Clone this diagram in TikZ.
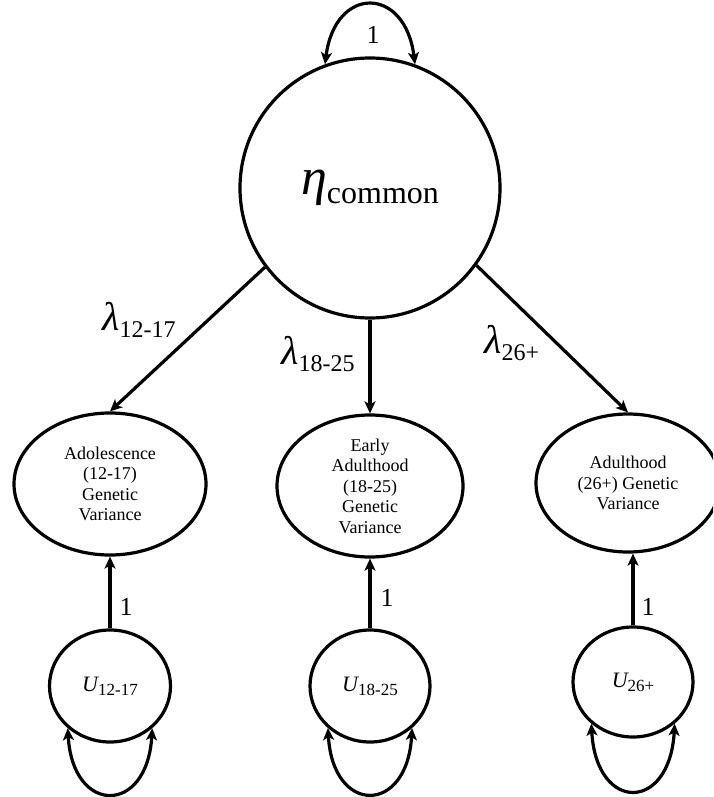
\documentclass[tikz,border=0pt]{standalone}
\usepackage{fontspec}
\setmainfont{Liberation Serif}
\usetikzlibrary{shapes.geometric,arrows.meta}

% loading symbol with an upright subscript
\newcommand\lamsub[1]{{\fontsize{40}{42}\selectfont\itshape λ}\raisebox{-7pt}{\fontsize{24}{26}\selectfont #1}}
\newcommand\usub[1]{{\fontsize{22}{24}\selectfont\itshape U}\raisebox{-4pt}{\fontsize{17}{18}\selectfont #1}}

\begin{document}
\begin{tikzpicture}[x=1pt,y=-1pt,
  latent/.style={draw, line width=3.2pt, ellipse, inner sep=0pt, align=center,
                 font=\fontsize{18}{20.5}\selectfont},
  conn/.style={line width=3.2pt, -{Stealth[length=12pt,width=11pt,inset=3pt]}},
  loopconn/.style={line width=3.2pt, {Stealth[length=12pt,width=11pt,inset=3pt]}-{Stealth[length=12pt,width=11pt,inset=3pt]}},
  coef/.style={inner sep=0pt, font=\fontsize{26}{27}\selectfont},
  load/.style={inner sep=0pt, anchor=base west}]

\path[use as bounding box] (0,0) rectangle (713,797);
\clip (0,0) rectangle (713,797);

% common factor
\node[latent, minimum width=260, minimum height=260] (eta) at (370,188)
  {{\fontsize{52}{52}\selectfont\itshape η}\raisebox{-9pt}{\fontsize{32}{32}\selectfont common}};

% age-specific genetic variances
\node[latent, minimum width=192, minimum height=142] (adol) at (110,484)
  {Adolescence\\(12-17)\\Genetic\\Variance};
\node[latent, minimum width=186, minimum height=142] (early) at (370,486)
  {Early\\Adulthood\\(18-25)\\Genetic\\Variance};
\node[latent, minimum width=184, minimum height=138] (adult) at (628,483)
  {Adulthood\\(26+) Genetic\\Variance};

% unique parts
\node[latent, minimum width=121, minimum height=112] (u1) at (110,686) {\usub{12-17}};
\node[latent, minimum width=120, minimum height=112] (u2) at (370,686) {\usub{18-25}};
\node[latent, minimum width=120, minimum height=110] (u3) at (633,682) {\usub{26+}};

% factor variance
\draw[loopconn] (eta.110) .. controls +(10,-79) and +(-10,-79) .. (eta.70);
\node[coef] (one0) at (373,35) {1};

% loadings
\draw[conn] (eta.217) -- (adol.north);
\draw[conn] (eta.south) -- (early.north);
\draw[conn] (eta.324) -- (adult.north);
\node[load] (l1) at (102,330) {\lamsub{12-17}};
\node[load] (l2) at (281,364) {\lamsub{18-25}};
\node[load] (l3) at (484,353) {\lamsub{26+}};

% paths from the unique parts
\draw[conn] (u1.north) -- (adol.south);
\draw[conn] (u2.north) -- (early.south);
\draw[conn] (u3.north) -- (u3.north |- adult.south);
\node[coef] (one1) at (126,607) {1};
\node[coef] (one2) at (387,598) {1};
\node[coef] (one3) at (648,607) {1};

% residual variances
\draw[loopconn] (u1.225) .. controls +(5,87) and +(-5,87) .. (u1.315);
\draw[loopconn] (u2.225) .. controls +(5,87) and +(-5,87) .. (u2.315);
\draw[loopconn] (u3.225) .. controls +(5,89) and +(-5,89) .. (u3.315);
\end{tikzpicture}
\end{document}
